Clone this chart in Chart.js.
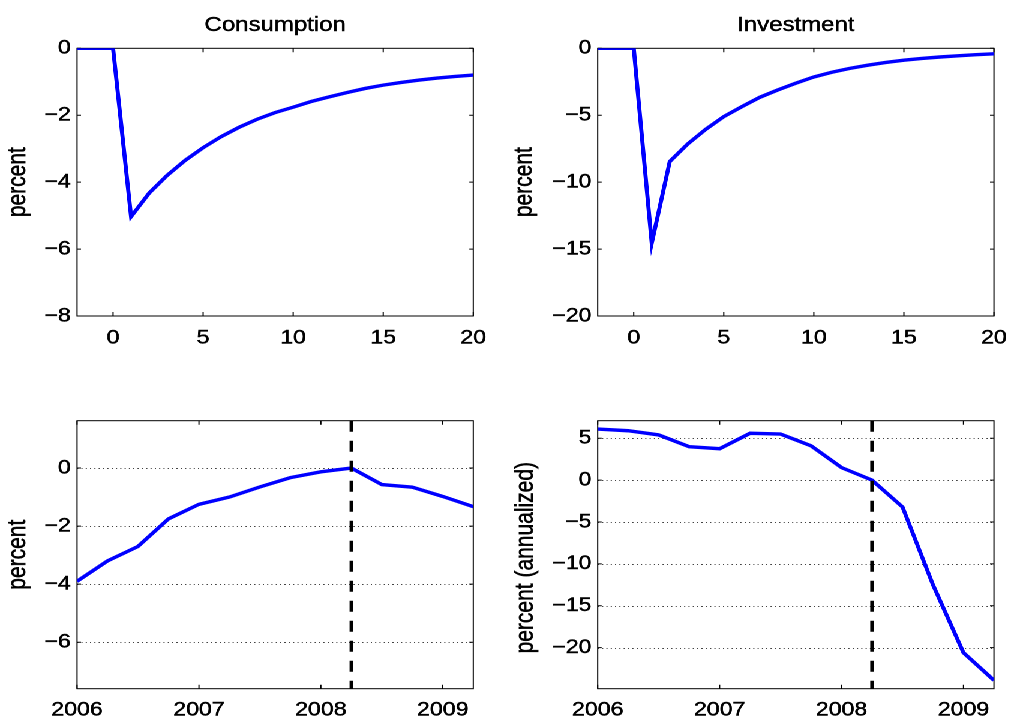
<!DOCTYPE html>
<html><head><meta charset="utf-8">
<script src="https://cdn.jsdelivr.net/npm/chart.js@4"></script>
<style>
html,body{margin:0;padding:0;background:#fff;overflow:hidden;width:1011px;height:719px}
#wrap{position:absolute;left:0;top:0;width:843px;height:719px;transform:scaleX(1.2);transform-origin:0 0}
canvas{position:absolute}
</style></head>
<body>
<div id="wrap">
<canvas id="c1" width="421" height="370" style="left:0px;top:0px"></canvas>
<canvas id="c2" width="421" height="370" style="left:421px;top:0px"></canvas>
<canvas id="c3" width="421" height="349" style="left:0px;top:370px"></canvas>
<canvas id="c4" width="421" height="349" style="left:421px;top:370px"></canvas>
</div>
<script>
// ---- data ----
const irfHorizon = [-2,-1,0,1,2,3,4,5,6,7,8,9,10,11,12,13,14,15,16,17,18,19,20];
const consumptionIRF = [0,0,0,-5.03,-4.33,-3.8,-3.35,-2.97,-2.64,-2.36,-2.12,-1.92,-1.76,-1.59,-1.45,-1.32,-1.2,-1.1,-1.02,-0.95,-0.89,-0.84,-0.8];
const investmentIRF = [0,0,0,-14.55,-8.46,-7.14,-6.05,-5.1,-4.36,-3.66,-3.11,-2.61,-2.14,-1.79,-1.5,-1.26,-1.06,-0.89,-0.76,-0.65,-0.56,-0.48,-0.41];
const quarters = [2006,2006.25,2006.5,2006.75,2007,2007.25,2007.5,2007.75,2008,2008.25,2008.5,2008.75,2009,2009.25];
const consumptionData = [-3.9,-3.2,-2.7,-1.75,-1.25,-1.0,-0.65,-0.33,-0.13,0,-0.57,-0.66,-0.98,-1.33];
const investmentData = [6.1,5.9,5.4,4.0,3.75,5.6,5.5,4.1,1.5,0,-3.2,-12.5,-20.6,-23.9];
const shockDate = 2008.25;
const irfXTicks = [0,5,10,15,20];
const yearTicks = [2006,2007,2008,2009];
const consIRFYTicks = [-8,-6,-4,-2,0];
const invIRFYTicks = [-20,-15,-10,-5,0];
const consYTicks = [-6,-4,-2,0];
const invYTicks = [-20,-15,-10,-5,0,5];
const titles = ['Consumption','Investment'];
const yLabels = ['percent','percent','percent','percent (annualized)'];

const FONT = '"Liberation Sans", Arial, Helvetica, sans-serif';
const BLUE = '#0000ff';
const fmt = v => (v < 0 ? '\u2212' + Math.abs(v) : String(v));

// panel title and y-axis label text
const textPlugin = {
  id: 'ptext',
  afterDraw(chart, args, opts) {
    const ctx = chart.ctx, ca = chart.chartArea;
    ctx.save();
    ctx.fillStyle = '#000';
    ctx.strokeStyle = '#000';
    ctx.lineWidth = 0.45;
    if (opts.title) {
      ctx.font = '20px ' + FONT;
      ctx.textAlign = 'center';
      ctx.textBaseline = 'alphabetic';
      const cx = (ca.left + ca.right) / 2;
      ctx.strokeText(opts.title, cx, 31);
      ctx.fillText(opts.title, cx, 31);
    }
    if (opts.ylabel) {
      ctx.font = '21px ' + FONT;
      ctx.textAlign = 'center';
      ctx.textBaseline = 'alphabetic';
      ctx.translate(opts.yx, (ca.top + ca.bottom) / 2 + (opts.dy || 0));
      ctx.rotate(-Math.PI / 2);
      ctx.strokeText(opts.ylabel, 0, 0);
      ctx.fillText(opts.ylabel, 0, 0);
    }
    ctx.restore();
  }
};

const boxPlugin = {
  id: 'mbox',
  beforeDatasetsDraw(chart, args, opts) {
    const ctx = chart.ctx, ca = chart.chartArea;
    const xs = chart.scales.x, ys = chart.scales.y;
    ctx.save();
    if (opts.grid) {
      ctx.strokeStyle = '#444';
      ctx.lineWidth = 1;
      ctx.setLineDash([1, 2.6]);
      ys.ticks.forEach(t => {
        const y = Math.round(ys.getPixelForValue(t.value)) + 0.5;
        ctx.beginPath(); ctx.moveTo(ca.left, y); ctx.lineTo(ca.right, y); ctx.stroke();
      });
      ctx.setLineDash([]);
    }
    ctx.strokeStyle = '#000';
    ctx.lineWidth = 1;
    ctx.strokeRect(ca.left, ca.top, ca.right - ca.left, ca.bottom - ca.top);
    ctx.beginPath();
    xs.ticks.forEach(t => {
      const x = xs.getPixelForValue(t.value);
      ctx.moveTo(x, ca.bottom); ctx.lineTo(x, ca.bottom - 4);
      ctx.moveTo(x, ca.top); ctx.lineTo(x, ca.top + 4);
    });
    ys.ticks.forEach(t => {
      const y = ys.getPixelForValue(t.value);
      ctx.moveTo(ca.left, y); ctx.lineTo(ca.left + 3.3, y);
      ctx.moveTo(ca.right, y); ctx.lineTo(ca.right - 3.3, y);
    });
    ctx.stroke();
    ctx.restore();
  }
};

function zeroPad(s) { s.paddingLeft = 0; s.paddingRight = 0; s.paddingTop = 0; s.paddingBottom = 0; }

const tickFont = { family: FONT, size: 19.3 };

function panel(id, c) {
  new Chart(document.getElementById(id), {
    type: 'line',
    data: { datasets: c.datasets },
    options: {
      responsive: false, animation: false, devicePixelRatio: 2,
      layout: { padding: { left: 0, right: c.padRight, top: c.padTop, bottom: 0 } },
      plugins: {
        legend: { display: false }, tooltip: { enabled: false },
        ptext: { title: c.title, ylabel: c.ylabel, yx: c.yx, dy: c.dy },
        mbox: { grid: c.grid }
      },
      elements: { point: { radius: 0 }, line: { tension: 0 } },
      scales: {
        x: {
          type: 'linear', min: c.xMin, max: c.xMax,
          grid: { display: false, drawTicks: false, tickLength: 0 }, border: { display: false },
          afterBuildTicks(s) { s.ticks = c.xTicks.map(v => ({ value: v })); },
          afterFit(s) { s.height = c.xH; zeroPad(s); },
          ticks: { font: tickFont, color: '#000', textStrokeColor: '#000', textStrokeWidth: 0.45,
                   padding: c.xPad, maxRotation: 0, autoSkip: false, callback: v => fmt(v) }
        },
        y: {
          type: 'linear', min: c.yMin, max: c.yMax,
          grid: { display: false, drawTicks: false, tickLength: 0 }, border: { display: false },
          afterBuildTicks(s) { s.ticks = c.yTicks.map(v => ({ value: v })); },
          afterFit(s) { s.width = c.yW; zeroPad(s); },
          ticks: { font: tickFont, color: '#000', textStrokeColor: '#000', textStrokeWidth: 0.45,
                   padding: 5.2, autoSkip: false, callback: v => fmt(v) }
        }
      }
    },
    plugins: [boxPlugin, textPlugin]
  });
}

const lineDS = (xs, ys) => ({
  data: xs.map((x, i) => ({ x: x, y: ys[i] })),
  borderColor: BLUE, borderWidth: 3.4, fill: false, pointRadius: 0
});
const shockDS = (lo, hi) => ({
  data: [{ x: shockDate, y: hi }, { x: shockDate, y: lo }],
  borderColor: '#000', borderWidth: 3, borderDash: [11, 9], fill: false, pointRadius: 0
});

panel('c1', { datasets: [lineDS(irfHorizon, consumptionIRF)], title: titles[0], ylabel: yLabels[0], yx: 21,
  xMin: -2, xMax: 20, yMin: -8, yMax: 0, xTicks: irfXTicks, yTicks: consIRFYTicks,
  padTop: 48.3, padRight: 26.6, yW: 64.2, xH: 54, xPad: 10.5, grid: false });
panel('c2', { datasets: [lineDS(irfHorizon, investmentIRF)], title: titles[1], ylabel: yLabels[1], yx: 21.8,
  xMin: -2, xMax: 20, yMin: -20, yMax: 0, xTicks: irfXTicks, yTicks: invIRFYTicks,
  padTop: 48.3, padRight: 13.7, yW: 77.1, xH: 54, xPad: 10.5, grid: false });
panel('c3', { datasets: [shockDS(-7.6, 1.63), lineDS(quarters, consumptionData)], title: '', ylabel: yLabels[2], yx: 21,
  xMin: 2006, xMax: 2009.25, yMin: -7.6, yMax: 1.63, xTicks: yearTicks, yTicks: consYTicks,
  padTop: 50.7, padRight: 26.6, yW: 64.2, xH: 30.3, xPad: 10, grid: true });
panel('c4', { datasets: [shockDS(-24.9, 7.1), lineDS(quarters, investmentData)], title: '', ylabel: yLabels[3], yx: 23.2, dy: 3,
  xMin: 2006, xMax: 2009.25, yMin: -24.9, yMax: 7.1, xTicks: yearTicks, yTicks: invYTicks,
  padTop: 50.7, padRight: 13.7, yW: 77.1, xH: 30.3, xPad: 10, grid: true });
</script>
</body></html>
